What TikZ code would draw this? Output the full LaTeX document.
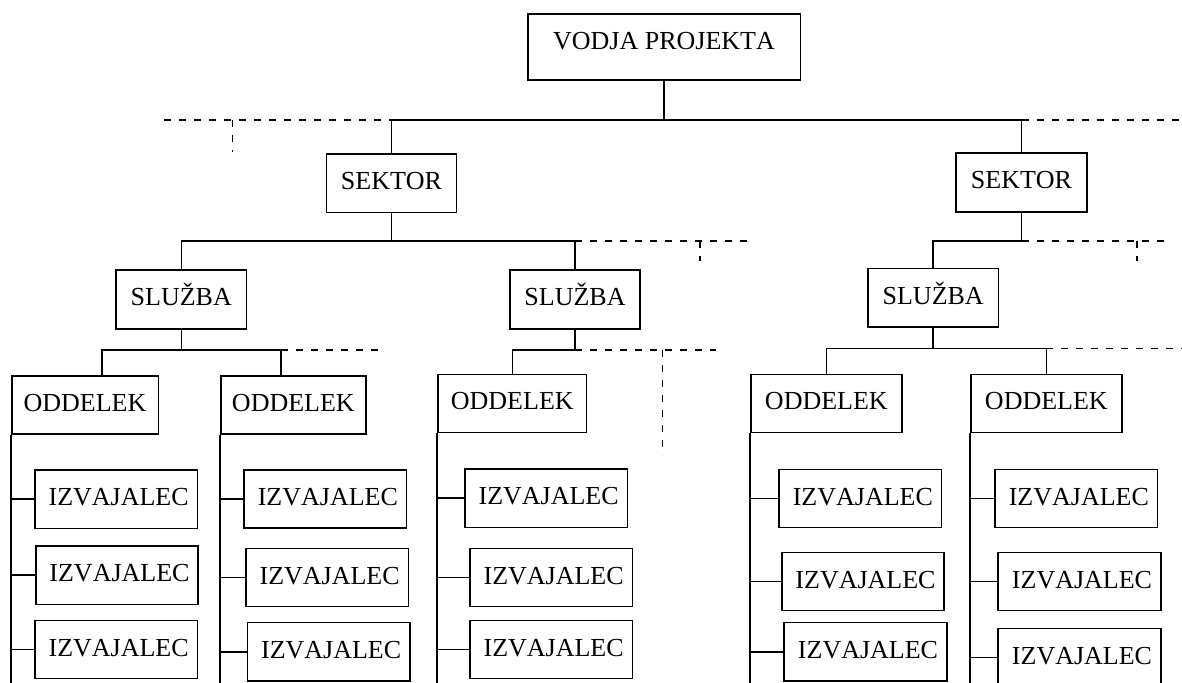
\documentclass[tikz,border=0pt]{standalone}
\usepackage{fontspec}
\setmainfont{Liberation Serif}[Kerning=Off]
\usetikzlibrary{calc}
\begin{document}
\begin{tikzpicture}[x=1pt,y=-1pt,line width=1.6pt,
  box/.style={draw,line width=1.6pt,inner sep=0pt,text height=17pt,text depth=4pt,
    font=\fontsize{26}{30}\selectfont},
  izv/.style={box,minimum width=162.5pt,minimum height=58.3pt,execute at begin node={\hspace*{5pt}}},
  dsh/.style={dash pattern=on 7pt off 8pt}]
\useasboundingbox (0,0) rectangle (1182,682);

% top
\node[box,minimum width=272.6pt,minimum height=66pt,text depth=11pt] (vodja) at (664,47) {VODJA PROJEKTA};
\node[box,minimum width=130.3pt,minimum height=58.3pt] (sekL) at (391.5,183.15) {SEKTOR};
\node[box,minimum width=130.7pt,minimum height=59pt] (sekR) at (1021.5,182.2) {SEKTOR};
\node[box,minimum width=130.3pt,minimum height=58.7pt] (sluL) at (181.3,299.35) {SLUŽBA};
\node[box,minimum width=130pt,minimum height=58.7pt] (sluM) at (575,299.35) {SLUŽBA};
\node[box,minimum width=130.3pt,minimum height=58.4pt] (sluR) at (933.2,297.5) {SLUŽBA};
\node[box,minimum width=146.6pt,minimum height=58pt] (odd1) at (85,405) {ODDELEK};
\node[box,minimum width=144.7pt,minimum height=58pt] (odd2) at (293.35,405) {ODDELEK};
\node[box,minimum width=148.5pt,minimum height=58pt] (odd3) at (512.3,403.3) {ODDELEK};
\node[box,minimum width=150.7pt,minimum height=58pt] (odd4) at (826.35,403.3) {ODDELEK};
\node[box,minimum width=150.7pt,minimum height=58pt] (odd5) at (1046.35,403.3) {ODDELEK};

% izvajalci
\node[izv] (a1) at (116.15,499.15) {IZVAJALEC};
\node[izv] (a2) at (117,575.15) {IZVAJALEC};
\node[izv] (a3) at (116.15,649.5) {IZVAJALEC};
\node[izv] (b1) at (325.35,498.85) {IZVAJALEC};
\node[izv] (b2) at (327.15,577.5) {IZVAJALEC};
\node[izv] (b3) at (328.65,651.7) {IZVAJALEC};
\node[izv] (c1) at (546.15,498.15) {IZVAJALEC};
\node[izv] (c2) at (551.15,577.5) {IZVAJALEC};
\node[izv] (c3) at (551.15,649.5) {IZVAJALEC};
\node[izv] (d1) at (860.35,498.5) {IZVAJALEC};
\node[izv] (d2) at (863,581.5) {IZVAJALEC};
\node[izv] (d3) at (865.5,651.7) {IZVAJALEC};
\node[izv] (e1) at (1076.35,498.5) {IZVAJALEC};
\node[izv] (e2) at (1079.5,581.5) {IZVAJALEC};
\node[izv] (e3) at (1079.5,657.5) {IZVAJALEC};

% level 0 bus
\coordinate (b0) at (664,120);
\coordinate (b0l) at (391.5,120);
\coordinate (b0r) at (1021.5,120);
\draw (vodja.south) -- (b0);
\draw (sekL.north) -- (b0l) -- (b0r) -- (sekR.north);
\coordinate (d0a) at (164.3,120);
\coordinate (d0b) at (232.3,120);
\coordinate (d0c) at (232.3,152.3);
\coordinate (d0e) at (1182,120);
\draw[dsh] (d0a) -- (b0l);
\draw[dsh] (d0b) -- (d0c);
\draw[dsh] (b0r) -- (d0e);

% left sektor bus
\coordinate (s1) at (391.5,240.7);
\coordinate (s1l) at (181.3,240.7);
\coordinate (s1r) at (575,240.7);
\draw (sekL.south) -- (s1);
\draw (sluL.north) -- (s1l) -- (s1r) -- (sluM.north);
\coordinate (s1e) at (750,240.7);
\coordinate (s1v) at (700,240.7);
\coordinate (s1w) at (700,261);
\draw[dsh] (s1r) -- (s1e);
\draw[dsh] (s1v) -- (s1w);

% right sektor bus
\coordinate (s2) at (1021.5,240.7);
\coordinate (s2l) at (933.2,240.7);
\draw (sekR.south) -- (s2) -- (s2l) -- (sluR.north);
\coordinate (s2e) at (1168,240.7);
\coordinate (s2v) at (1136.7,240.7);
\coordinate (s2w) at (1136.7,260.7);
\draw[dsh] (s2) -- (s2e);
\draw[dsh] (s2v) -- (s2w);

% left sluzba bus
\coordinate (l1) at (181.3,350);
\coordinate (l1a) at (101.7,350);
\coordinate (l1b) at (281,350);
\draw (sluL.south) -- (l1);
\draw (l1a |- odd1.north) -- (l1a) -- (l1b) -- (l1b |- odd2.north);
\coordinate (l1e) at (385,350);
\draw[dsh] (l1b) -- (l1e);

% mid sluzba bus
\coordinate (m1) at (575,350);
\coordinate (m1a) at (512.3,350);
\draw (sluM.south) -- (m1) -- (m1a) -- (odd3.north);
\coordinate (m1e) at (716,350);
\coordinate (m1v) at (662.3,350);
\coordinate (m1w) at (662.3,455);
\draw[dsh] (m1) -- (m1e);
\draw[dsh] (m1v) -- (m1w);

% right sluzba bus
\coordinate (r1) at (933.2,348.3);
\coordinate (r1a) at (826.35,348.3);
\coordinate (r1b) at (1046.35,348.3);
\draw (sluR.south) -- (r1);
\draw (odd4.north) -- (r1a) -- (r1b) -- (odd5.north);
\coordinate (r1e) at (1182,348.3);
\draw[dsh] (r1b) -- (r1e);

% spines and ticks
\foreach \o/\p in {odd1/a,odd2/b,odd3/c,odd4/d,odd5/e}{
  \coordinate (\o end) at ($(\o.south west)+(0,250)$);
  \draw (\o.south west) -- (\o end);
  \foreach \k in {1,2,3}{
    \draw (\o.south west |- \p\k.west) -- (\p\k.west);
  }
}
\end{tikzpicture}
\end{document}
